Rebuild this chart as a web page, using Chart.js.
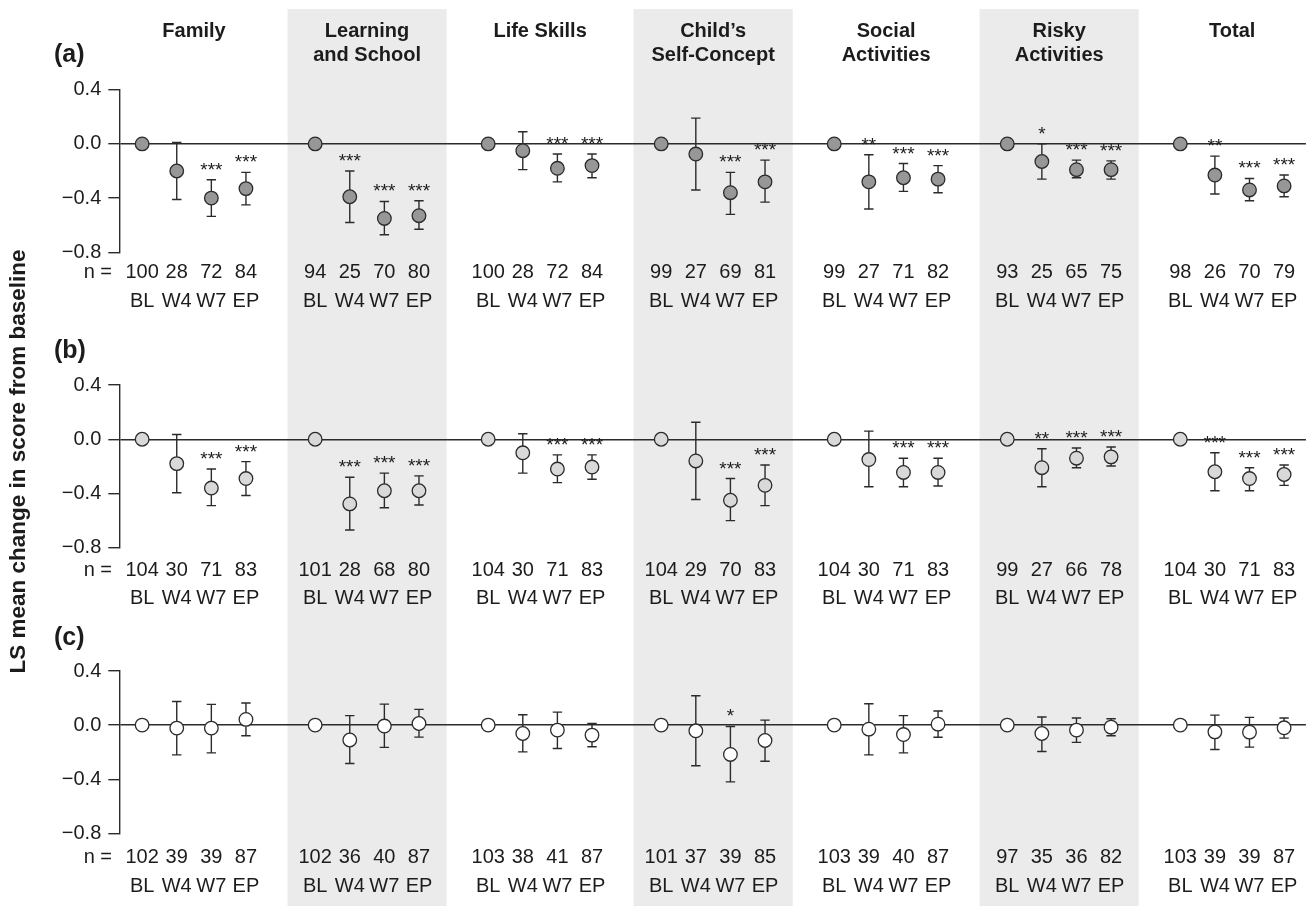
<!DOCTYPE html>
<html><head><meta charset="utf-8">
<script src="https://cdn.jsdelivr.net/npm/chart.js@4.4.0/dist/chart.umd.min.js"></script>
<style>
html,body{margin:0;padding:0;background:#fff;}
#wrap{position:relative;width:1314px;height:906px;overflow:hidden;}
#wrap canvas{position:absolute;left:0;top:0;}
</style></head><body>
<div id="wrap">
<canvas id="cA" width="1314" height="906"></canvas>
<canvas id="cB" width="1314" height="906"></canvas>
<canvas id="cC" width="1314" height="906"></canvas>
</div>
<script>
// ---------------- data ----------------
const domains = [['Family'], ['Learning', 'and School'], ['Life Skills'], ['Child\u2019s', 'Self-Concept'], ['Social', 'Activities'], ['Risky', 'Activities'], ['Total']];
const timepoints = ['BL', 'W4', 'W7', 'EP'];
const yTickValues = [-0.8, -0.4, 0, 0.4];
const yTickLabels = ['\u22120.8', '\u22120.4', '0.0', '0.4'];
const panelLabels = ['(a)', '(b)', '(c)'];

// Panel (a)
const meanA = [[0,-0.20,-0.40,-0.33],[0,-0.39,-0.55,-0.53],[0,-0.05,-0.18,-0.16],[0,-0.075,-0.36,-0.28],[0,-0.28,-0.25,-0.26],[0,-0.13,-0.19,-0.19],[0,-0.23,-0.34,-0.31]];
const lowA  = [[0,-0.41,-0.535,-0.45],[0,-0.58,-0.67,-0.63],[0,-0.19,-0.28,-0.25],[0,-0.34,-0.52,-0.43],[0,-0.48,-0.35,-0.36],[0,-0.26,-0.25,-0.26],[0,-0.37,-0.42,-0.39]];
const highA = [[0,0.01,-0.265,-0.21],[0,-0.20,-0.425,-0.42],[0,0.09,-0.075,-0.075],[0,0.19,-0.21,-0.12],[0,-0.08,-0.145,-0.16],[0,0.0,-0.12,-0.125],[0,-0.09,-0.255,-0.23]];
const sigA  = [['','','***','***'],['','***','***','***'],['','','***','***'],['','','***','***'],['','**','***','***'],['','*','***','***'],['','**','***','***']];
const nA    = [[100,28,72,84],[94,25,70,80],[100,28,72,84],[99,27,69,81],[99,27,71,82],[93,25,65,75],[98,26,70,79]];

// Panel (b)
const meanB = [[0,-0.18,-0.36,-0.29],[0,-0.477,-0.38,-0.38],[0,-0.10,-0.22,-0.205],[0,-0.16,-0.45,-0.34],[0,-0.15,-0.245,-0.245],[0,-0.21,-0.14,-0.13],[0,-0.24,-0.29,-0.26]];
const lowB  = [[0,-0.395,-0.49,-0.415],[0,-0.67,-0.505,-0.485],[0,-0.25,-0.32,-0.295],[0,-0.445,-0.60,-0.49],[0,-0.35,-0.35,-0.345],[0,-0.35,-0.21,-0.197],[0,-0.38,-0.38,-0.34]];
const highB = [[0,0.035,-0.22,-0.165],[0,-0.28,-0.25,-0.27],[0,0.04,-0.115,-0.115],[0,0.125,-0.29,-0.19],[0,0.06,-0.14,-0.14],[0,-0.07,-0.065,-0.057],[0,-0.10,-0.21,-0.19]];
const sigB  = [['','','***','***'],['','***','***','***'],['','','***','***'],['','','***','***'],['','','***','***'],['','**','***','***'],['','***','***','***']];
const nB    = [[104,30,71,83],[101,28,68,80],[104,30,71,83],[104,29,70,83],[104,30,71,83],[99,27,66,78],[104,30,71,83]];

// Panel (c)
const meanC = [[0,-0.022,-0.022,0.042],[0,-0.11,-0.007,0.012],[0,-0.062,-0.037,-0.074],[0,-0.042,-0.217,-0.114],[0,-0.03,-0.07,0.007],[0,-0.062,-0.037,-0.015],[0,-0.05,-0.052,-0.02]];
const lowC  = [[0,-0.22,-0.205,-0.079],[0,-0.284,-0.165,-0.089],[0,-0.198,-0.173,-0.16],[0,-0.30,-0.42,-0.267],[0,-0.22,-0.205,-0.09],[0,-0.195,-0.128,-0.079],[0,-0.18,-0.163,-0.096]];
const highC = [[0,0.175,0.153,0.163],[0,0.07,0.155,0.116],[0,0.077,0.096,0.012],[0,0.217,-0.01,0.037],[0,0.158,0.07,0.104],[0,0.06,0.052,0.047],[0,0.074,0.057,0.052]];
const sigC  = [['','','',''],['','','',''],['','','',''],['','','*',''],['','','',''],['','','',''],['','','','']];
const nC    = [[102,39,39,87],[102,36,40,87],[103,38,41,87],[101,37,39,85],[103,39,40,87],[97,35,36,82],[103,39,39,87]];

const yTitle = 'LS mean change in score from baseline';

// ---------------- layout / style ----------------
const W = 1314, H = 906;
const FONT = '"Liberation Sans", Arial, Helvetica, sans-serif';
const INK = '#1c1c1c';
const LINE = '#2b2b2b';
const GROUP_STEP = 5;
const X_MIN = -0.66, X_MAX = 33.63;
const X_AXIS_H = 80, LABEL_LH = 28.5, LABEL_SIZE = 20;
const layouts = [
  { top: 89.7, bottom: 252.3, nY: 272.7, labelY: 55, fill: '#979797' },
  { top: 385.0, bottom: 547.7, nY: 570.0, labelY: 351, fill: '#d9d9d9' },
  { top: 671.0, bottom: 833.3, nY: 857.7, labelY: 638, fill: '#ffffff' }
];
const panels = [
  { mean: meanA, low: lowA, high: highA, sig: sigA, n: nA },
  { mean: meanB, low: lowB, high: highB, sig: sigB, n: nB },
  { mean: meanC, low: lowC, high: highC, sig: sigC, n: nC }
];

function xOf(g, t) { return g * GROUP_STEP + t; }
const xTickValues = [];
domains.forEach((d, g) => timepoints.forEach((tp, t) => xTickValues.push(xOf(g, t))));

function drawBands(chart) {
  const xs = chart.scales.x, ctx = chart.ctx;
  ctx.save();
  ctx.fillStyle = '#ebebeb';
  domains.forEach((d, g) => {
    if (g % 2 === 1) {
      const c = xOf(g, 1.5);
      const x0 = xs.getPixelForValue(c - 2.3), x1 = xs.getPixelForValue(c + 2.3);
      ctx.fillRect(x0, 9, x1 - x0, H - 9);
    }
  });
  ctx.restore();
}

function makePlugin(P, L, idx) {
  return {
    id: 'panelDecor' + idx,
    beforeDraw(chart) { if (idx === 0) drawBands(chart); },
    beforeDatasetsDraw(chart) {
      const xs = chart.scales.x, ys = chart.scales.y, ctx = chart.ctx;
      ctx.save();
      ctx.strokeStyle = LINE; ctx.lineWidth = 1.4;
      P.mean.forEach((row, g) => row.forEach((m, t) => {
        const lo = P.low[g][t], hi = P.high[g][t];
        if (hi - lo <= 0) return;
        const x = xs.getPixelForValue(xOf(g, t));
        const y0 = ys.getPixelForValue(lo), y1 = ys.getPixelForValue(hi);
        ctx.beginPath();
        ctx.moveTo(x, y0); ctx.lineTo(x, y1);
        ctx.moveTo(x - 4.7, y0); ctx.lineTo(x + 4.7, y0);
        ctx.moveTo(x - 4.7, y1); ctx.lineTo(x + 4.7, y1);
        ctx.stroke();
      }));
      ctx.restore();
    },
    afterDatasetsDraw(chart) {
      const xs = chart.scales.x, ys = chart.scales.y, ctx = chart.ctx;
      ctx.save();
      ctx.fillStyle = INK; ctx.font = '19px ' + FONT;
      ctx.textAlign = 'center'; ctx.textBaseline = 'alphabetic';
      P.sig.forEach((row, g) => row.forEach((s, t) => {
        if (!s) return;
        const x = xs.getPixelForValue(xOf(g, t));
        const y = ys.getPixelForValue(P.high[g][t]);
        ctx.fillText(s, x, y - 4);
      }));
      ctx.restore();
    },
    afterDraw(chart) {
      const xs = chart.scales.x, ctx = chart.ctx;
      ctx.save();
      ctx.fillStyle = INK;
      ctx.textBaseline = 'middle';
      ctx.textAlign = 'left';
      ctx.font = 'bold 25px ' + FONT;
      ctx.fillText(panelLabels[idx], 54, L.labelY);
      ctx.textAlign = 'right';
      ctx.font = LABEL_SIZE + 'px ' + FONT;
      ctx.fillText('n =', 112, L.nY);
      if (idx === 0) {
        ctx.textAlign = 'center';
        ctx.font = 'bold 20px ' + FONT;
        domains.forEach((lines, g) => lines.forEach((s, i) => {
          ctx.fillText(s, xs.getPixelForValue(xOf(g, 1.5)), 31 + i * 24);
        }));
        ctx.save();
        ctx.translate(19, 461.5);
        ctx.rotate(-Math.PI / 2);
        ctx.font = 'bold 22.5px ' + FONT;
        ctx.fillText(yTitle, 0, 0);
        ctx.restore();
      }
      ctx.restore();
    }
  };
}

Chart.defaults.font.family = FONT;
Chart.defaults.color = INK;

['cA', 'cB', 'cC'].forEach((id, idx) => {
  const P = panels[idx], L = layouts[idx];
  const pts = [];
  const labelsN = [];
  P.mean.forEach((row, g) => row.forEach((m, t) => {
    pts.push({ x: xOf(g, t), y: m });
    labelsN.push(String(P.n[g][t]));
  }));
  const xPad = L.nY - L.bottom - LABEL_LH / 2;
  new Chart(document.getElementById(id), {
    type: 'scatter',
    data: {
      datasets: [{
        data: pts,
        showLine: false,
        pointRadius: 6.8,
        pointHoverRadius: 6.8,
        pointBackgroundColor: L.fill,
        pointBorderColor: LINE,
        pointBorderWidth: 1.3,
        clip: false
      }]
    },
    options: {
      responsive: false,
      animation: false,
      devicePixelRatio: 1,
      events: [],
      layout: { padding: { top: L.top, bottom: H - L.bottom - X_AXIS_H, left: 0, right: 6 } },
      plugins: { legend: { display: false }, tooltip: { enabled: false } },
      scales: {
        x: {
          type: 'linear', position: 'bottom', min: X_MIN, max: X_MAX,
          grid: { display: false, drawTicks: false, tickLength: 0 }, border: { display: false },
          afterBuildTicks: s => { s.ticks = xTickValues.map(v => ({ value: v })); },
          afterFit: s => { s.height = X_AXIS_H; },
          ticks: {
            autoSkip: false, maxRotation: 0, minRotation: 0, padding: xPad,
            color: INK,
            font: { size: LABEL_SIZE, lineHeight: LABEL_LH / LABEL_SIZE },
            callback: (v, i) => [labelsN[i], timepoints[i % 4]]
          }
        },
        y: {
          type: 'linear', position: 'left', min: -0.8, max: 0.4,
          afterBuildTicks: s => { s.ticks = yTickValues.map(v => ({ value: v })); },
          afterFit: s => { s.width = 119.3; },
          grid: {
            drawOnChartArea: true, drawTicks: true, tickLength: 11, lineWidth: 1.4,
            color: c => (c.tick && Math.abs(c.tick.value) < 1e-9) ? LINE : 'rgba(0,0,0,0)',
            tickColor: LINE, tickWidth: 1.4
          },
          border: { display: true, color: LINE, width: 1.4 },
          ticks: {
            padding: 7, color: INK, font: { size: 20 },
            callback: (v, i) => yTickLabels[i]
          }
        }
      }
    },
    plugins: [makePlugin(P, L, idx)]
  });
});
</script>
</body></html>
